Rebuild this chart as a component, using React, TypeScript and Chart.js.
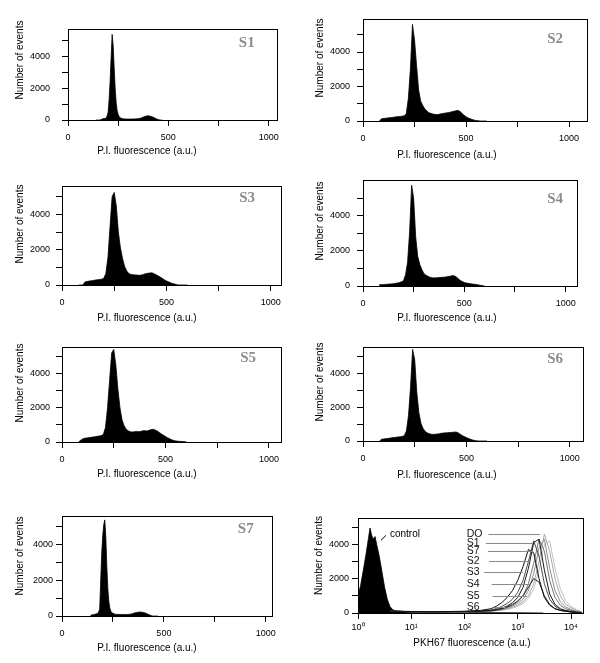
import React, { useEffect, useRef } from "react";
import { Chart, registerables } from "chart.js";

Chart.register(...registerables);

const SANS = "'Liberation Sans', Arial, Helvetica, sans-serif";
const SERIF = "'Liberation Serif', 'Times New Roman', serif";

// ---------- DATA ----------
// P.I. histogram bin centres (a.u.)
const PI_BINS_WIDE = [
  80, 90, 100, 110, 120, 130, 140, 150, 160, 170,
  180, 190, 200, 210, 220, 230, 240, 250, 260, 270,
  280, 290, 300, 310, 320, 330, 340, 350, 360, 370,
  380, 390, 400, 410, 420, 430, 440, 450, 460, 470,
  480, 490, 500, 510, 520, 530, 540, 550, 560, 570,
  580, 590, 600,
];
const PI_BINS_NARROW = [
  140, 145, 150, 155, 160, 165, 170, 175, 180, 185,
  190, 195, 200, 205, 210, 215, 220, 225, 230, 235,
  240, 245, 250, 255, 260, 265, 270, 275, 280, 285,
  290, 295, 300, 305, 310, 315, 320, 325, 330, 335,
  340, 345, 350, 355, 360, 365, 370, 375, 380, 385,
  390, 395, 400, 405, 410, 415, 420, 425, 430, 435,
  440, 445, 450, 455, 460, 465, 470,
];

// Number of events per bin
const S1_EVENTS = [
  0, 0, 0, 0, 0, 30, 60, 80, 90, 100,
  140, 250, 500, 1300, 2500, 4000, 5400, 4700, 3300, 2000,
  1100, 600, 350, 200, 150, 110, 90, 80, 70, 70,
  65, 60, 60, 60, 60, 60, 65, 65, 70, 70,
  75, 80, 90, 100, 110, 130, 160, 190, 210, 230,
  250, 260, 270, 260, 240, 220, 200, 170, 140, 110,
  80, 50, 30, 10, 0, 0, 0,
];
const S7_EVENTS = [
  40, 60, 70, 80, 90, 110, 130, 150, 220, 400,
  2000, 3500, 4500, 5100, 5360, 4430, 2750, 1500, 800, 430,
  260, 180, 150, 120, 100, 90, 90, 90, 90, 85,
  80, 80, 80, 80, 80, 80, 85, 90, 95, 100,
  110, 130, 150, 170, 185, 195, 205, 215, 220, 220,
  215, 210, 195, 180, 160, 140, 110, 80, 60, 35,
  15, 0, 0, 0, 0, 0, 0,
];
const S2_EVENTS = [
  0, 130, 150, 160, 180, 190, 210, 220, 240, 250,
  260, 280, 300, 420, 1300, 3000, 5600, 4700, 3200, 1800,
  1150, 900, 700, 580, 480, 440, 400, 380, 370, 390,
  420, 440, 460, 480, 500, 530, 560, 590, 610, 560,
  450, 330, 250, 180, 130, 90, 50, 30, 10, 0,
  0, 0, 0,
];
const S3_EVENTS = [
  0, 0, 0, 170, 200, 220, 240, 260, 280, 300,
  310, 330, 380, 650, 1550, 3300, 5000, 5250, 4500, 3000,
  2100, 1500, 1050, 800, 650, 600, 580, 570, 560, 550,
  560, 600, 640, 660, 680, 690, 650, 580, 520, 450,
  380, 300, 230, 180, 130, 80, 50, 20, 0, 0,
  0, 0, 0,
];
const S4_EVENTS = [
  70, 75, 80, 90, 100, 110, 120, 130, 150, 170,
  200, 240, 300, 650, 1350, 3100, 5750, 5000, 2800, 1700,
  1235, 950, 720, 620, 560, 500, 470, 460, 465, 475,
  485, 495, 500, 520, 540, 560, 590, 580, 520, 420,
  320, 250, 200, 170, 150, 130, 110, 100, 90, 60,
  40, 20, 0,
];
const S5_EVENTS = [
  0, 100, 180, 220, 240, 250, 270, 290, 310, 330,
  350, 380, 450, 850, 2000, 3600, 5200, 5400, 4500, 3100,
  2000, 1300, 950, 750, 650, 600, 580, 600, 620, 600,
  620, 650, 660, 640, 680, 720, 740, 700, 640, 560,
  470, 400, 320, 250, 190, 130, 90, 60, 45, 35,
  30, 20, 10,
];
const S6_EVENTS = [
  0, 100, 120, 140, 150, 170, 190, 200, 220, 240,
  250, 270, 320, 600, 1500, 3200, 5400, 4800, 2900, 1700,
  1050, 750, 580, 480, 430, 400, 390, 400, 410, 430,
  460, 470, 480, 490, 500, 510, 520, 530, 480, 400,
  320, 260, 200, 150, 100, 60, 35, 10, 0, 0,
  0, 0, 0,
];

// PKH67 fluorescence (log axis)
const CONTROL_X = [1, 1.12, 1.26, 1.41, 1.58, 1.68, 1.78, 1.91, 2.09, 2.24, 2.51, 2.82, 3.16, 3.55, 3.98, 4.47, 5.01, 6.31, 7.94, 10, 15.8, 31.6, 100, 316, 1000, 3000];
const CONTROL_Y = [1000, 1600, 2500, 3400, 4400, 4950, 4600, 4300, 4450, 4000, 3300, 2400, 1500, 800, 380, 200, 130, 100, 80, 60, 40, 30, 20, 20, 10, 0];

const SAMPLE_X = [4, 10, 30, 100, 200, 316, 398, 501, 631, 794, 1000, 1259, 1585, 1995, 2512, 3162, 3981, 5012, 6310, 7943, 10000, 12589, 15849];
const PKH_S3 = [120, 90, 80, 100, 150, 250, 400, 600, 900, 1300, 1900, 2700, 3700, 3500, 2000, 900, 450, 250, 150, 100, 60, 30, 10];
const PKH_S2 = [100, 80, 70, 90, 120, 180, 260, 380, 550, 800, 1200, 1900, 3000, 4200, 3300, 1700, 800, 400, 200, 120, 80, 40, 10];
const PKH_S1 = [100, 80, 70, 90, 110, 150, 200, 280, 400, 600, 900, 1500, 2600, 4100, 4300, 2500, 1100, 500, 250, 150, 90, 50, 20];
const PKH_S5 = [90, 70, 60, 80, 100, 130, 180, 250, 350, 500, 700, 1000, 1500, 2000, 1800, 1000, 500, 250, 150, 100, 60, 30, 10];
const PKH_S4 = [100, 80, 70, 80, 100, 130, 170, 230, 320, 450, 650, 1000, 1700, 2900, 4300, 3600, 1900, 900, 450, 250, 150, 80, 30];
const PKH_S7 = [100, 80, 70, 80, 100, 120, 150, 200, 280, 400, 550, 800, 1300, 2300, 3800, 4300, 2600, 1300, 650, 350, 200, 100, 40];
const PKH_DO = [100, 80, 70, 80, 100, 120, 140, 180, 240, 330, 450, 650, 1000, 1700, 3000, 4600, 3600, 2000, 1000, 500, 300, 150, 60];
const PKH_S6 = [100, 80, 70, 80, 90, 110, 130, 160, 210, 280, 380, 550, 850, 1400, 2500, 4000, 4200, 2600, 1400, 700, 400, 200, 80];

// Labels and leader lines of the PKH67 panel (data coordinates)
const PKH_LABELS = ["DO", "S1", "S7", "S2", "S3", "S4", "S5", "S6"];
const PKH_LABEL_Y = [4620, 4075, 3590, 3010, 2390, 1680, 1000, 365];
const PKH_LEADER_START = [282, 251, 275, 288, 234, 324, 339, 355];
const PKH_LEADER_END = [2630, 1950, 1950, 1740, 1260, 1740, 1480, 600];
const PKH_LABEL_X = 110;
const CONTROL_LABEL = "control";
const CONTROL_LABEL_AT = [3.98, 4580];
const CONTROL_MARK_FROM = [2.7, 4230];
const CONTROL_MARK_TO = [3.36, 4520];

// Ticks
const X_LIN_TICKS = [0, 250, 500, 750, 1000];
const X_LIN_LABELS = ["0", "", "500", "", "1000"];
const X_LOG_TICKS = [1, 10, 100, 1000, 10000];
const X_LOG_LABELS = ["10\u2070", "10\u00B9", "10\u00B2", "10\u00B3", "10\u2074"];
const Y_TICKS = [0, 1000, 2000, 3000, 4000, 5000];
const Y_LABELS = ["0", "", "2000", "", "4000", ""];

// ---------- LAYOUT ----------
const PADL = 60, PADT = 8, PADR = 8, PADB = 42;

type Series = { xs: number[]; ys: number[]; color: string; fill: boolean; width: number };
type PanelCfg = {
  key: string; L: number; T: number; R: number; B: number;
  xMin: number; xMax: number; yMax: number; log?: boolean;
  tag?: string; tagRight?: number; tagTop?: number;
  xTitle: string; xTitleCX: number; xTitleCY: number; yTitleCX: number; yPad: number;
  series: Series[]; leaders?: boolean;
};

const black = (xs: number[], ys: number[]): Series => ({ xs, ys, color: "#000", fill: true, width: 0.8 });
const PI_TITLE = "P.I. fluorescence (a.u.)";

const PANELS: PanelCfg[] = [
  { key: "S1", L: 68, T: 20, R: 277, B: 120, xMin: 0, xMax: 1040, yMax: 5714, tag: "S1", tagRight: 22, tagTop: 14, xTitle: PI_TITLE, xTitleCX: 147, xTitleCY: 151, yTitleCX: 20, yPad: 12, series: [black(PI_BINS_NARROW, S1_EVENTS)] },
  { key: "S2", L: 363, T: 15, R: 587, B: 121, xMin: 0, xMax: 1087, yMax: 5890, tag: "S2", tagRight: 24, tagTop: 20, xTitle: PI_TITLE, xTitleCX: 447, xTitleCY: 155, yTitleCX: 320, yPad: 7, series: [black(PI_BINS_WIDE, S2_EVENTS)] },
  { key: "S3", L: 62, T: 183, R: 281, B: 285, xMin: 0, xMax: 1049, yMax: 5590, tag: "S3", tagRight: 26, tagTop: 12, xTitle: PI_TITLE, xTitleCX: 147, xTitleCY: 318, yTitleCX: 20, yPad: 6, series: [black(PI_BINS_WIDE, S3_EVENTS)] },
  { key: "S4", L: 363, T: 176, R: 577, B: 286, xMin: 0, xMax: 1056, yMax: 6027, tag: "S4", tagRight: 14, tagTop: 19, xTitle: PI_TITLE, xTitleCX: 447, xTitleCY: 318, yTitleCX: 320, yPad: 7, series: [black(PI_BINS_WIDE, S4_EVENTS)] },
  { key: "S5", L: 62, T: 344, R: 281, B: 442, xMin: 0, xMax: 1058, yMax: 5521, tag: "S5", tagRight: 25, tagTop: 11, xTitle: PI_TITLE, xTitleCX: 147, xTitleCY: 474, yTitleCX: 20, yPad: 6, series: [black(PI_BINS_WIDE, S5_EVENTS)] },
  { key: "S6", L: 363, T: 343, R: 583, B: 441, xMin: 0, xMax: 1064, yMax: 5521, tag: "S6", tagRight: 20, tagTop: 12, xTitle: PI_TITLE, xTitleCX: 447, xTitleCY: 475, yTitleCX: 320, yPad: 7, series: [black(PI_BINS_WIDE, S6_EVENTS)] },
  { key: "S7", L: 62, T: 516, R: 274, B: 616, xMin: 0, xMax: 1029, yMax: 5556, tag: "S7", tagRight: 18, tagTop: 13, xTitle: PI_TITLE, xTitleCX: 147, xTitleCY: 648, yTitleCX: 20, yPad: 3, series: [black(PI_BINS_NARROW, S7_EVENTS)] },
  {
    key: "PKH", L: 358, T: 518, R: 583, B: 613, xMin: 1, xMax: 16800, yMax: 5507, log: true,
    xTitle: "PKH67 fluorescence (a.u.)", xTitleCX: 472, xTitleCY: 643, yTitleCX: 319, yPad: 3, leaders: true,
    series: [
      { xs: SAMPLE_X, ys: PKH_S3, color: "#111", fill: false, width: 1 },
      { xs: SAMPLE_X, ys: PKH_S5, color: "#222", fill: false, width: 1 },
      { xs: SAMPLE_X, ys: PKH_S1, color: "#1a1a1a", fill: false, width: 1 },
      { xs: SAMPLE_X, ys: PKH_S2, color: "#4d4d4d", fill: false, width: 1 },
      { xs: SAMPLE_X, ys: PKH_S4, color: "#777", fill: false, width: 1 },
      { xs: SAMPLE_X, ys: PKH_S7, color: "#8c8c8c", fill: false, width: 1 },
      { xs: SAMPLE_X, ys: PKH_DO, color: "#aaa", fill: false, width: 1 },
      { xs: SAMPLE_X, ys: PKH_S6, color: "#c4c4c4", fill: false, width: 1 },
      black(CONTROL_X, CONTROL_Y),
    ],
  },
];

const decor = {
  id: "decor",
  afterDatasetsDraw(chart: any, _args: any, o: any) {
    const { ctx, chartArea: a } = chart;
    const xs = chart.scales.x, ys = chart.scales.y;
    if (o.leaders) {
      ctx.save();
      ctx.lineWidth = 1;
      PKH_LABELS.forEach((t: string, i: number) => {
        const y = Math.round(ys.getPixelForValue(PKH_LABEL_Y[i])) + 0.5;
        ctx.strokeStyle = "#8a8a8a";
        ctx.beginPath();
        ctx.moveTo(xs.getPixelForValue(PKH_LEADER_START[i]), y);
        ctx.lineTo(xs.getPixelForValue(PKH_LEADER_END[i]), y);
        ctx.stroke();
        ctx.fillStyle = "#111";
        ctx.font = `10.5px ${SANS}`;
        ctx.textAlign = "left";
        ctx.textBaseline = "middle";
        ctx.fillText(t, xs.getPixelForValue(PKH_LABEL_X), y);
      });
      ctx.strokeStyle = "#000";
      ctx.beginPath();
      ctx.moveTo(xs.getPixelForValue(CONTROL_MARK_FROM[0]), ys.getPixelForValue(CONTROL_MARK_FROM[1]));
      ctx.lineTo(xs.getPixelForValue(CONTROL_MARK_TO[0]), ys.getPixelForValue(CONTROL_MARK_TO[1]));
      ctx.stroke();
      ctx.fillStyle = "#000";
      ctx.font = `10px ${SANS}`;
      ctx.fillText(CONTROL_LABEL, xs.getPixelForValue(CONTROL_LABEL_AT[0]), ys.getPixelForValue(CONTROL_LABEL_AT[1]));
      ctx.restore();
    }
    ctx.save();
    ctx.strokeStyle = "#000";
    ctx.lineWidth = 1;
    ctx.strokeRect(Math.round(a.left) + 0.5, Math.round(a.top) + 0.5, Math.round(a.right - a.left), Math.round(a.bottom - a.top));
    if (o.tag) {
      ctx.font = `bold 15px ${SERIF}`;
      ctx.fillStyle = "#8c8c8c";
      ctx.textAlign = "right";
      ctx.textBaseline = "middle";
      ctx.fillText(o.tag, a.right - o.tagRight, a.top + o.tagTop);
    }
    ctx.fillStyle = "#000";
    ctx.font = `10px ${SANS}`;
    ctx.textAlign = "center";
    ctx.textBaseline = "middle";
    ctx.fillText(o.xTitle, o.xTitleX, o.xTitleY);
    ctx.translate(o.yTitleX, o.yTitleY);
    ctx.rotate(-Math.PI / 2);
    ctx.fillText("Number of events", 0, 0);
    ctx.restore();
  },
};

function Panel({ cfg }: { cfg: PanelCfg }) {
  const ref = useRef<HTMLCanvasElement>(null);
  const left = cfg.L - PADL;
  const top = cfg.T - PADT;
  const w = cfg.R - cfg.L + PADL + PADR;
  const h = cfg.B - cfg.T + PADT + PADB;
  useEffect(() => {
    const xTicks = cfg.log ? X_LOG_TICKS : X_LIN_TICKS;
    const xLabels = cfg.log ? X_LOG_LABELS : X_LIN_LABELS;
    const chart = new Chart(ref.current as HTMLCanvasElement, {
      type: "line",
      data: {
        datasets: cfg.series.map((s) => ({
          data: s.xs.map((x, i) => ({ x, y: s.ys[i] })),
          borderColor: s.color,
          backgroundColor: s.color,
          fill: s.fill ? "origin" : false,
          borderWidth: s.width,
          pointRadius: 0,
          tension: 0,
        })),
      } as any,
      options: {
        animation: false,
        responsive: false,
        events: [],
        layout: { padding: { left: 0, top: PADT, right: PADR, bottom: 0 } },
        plugins: {
          legend: { display: false },
          tooltip: { enabled: false },
          decor: {
            tag: cfg.tag, tagRight: cfg.tagRight, tagTop: cfg.tagTop,
            xTitle: cfg.xTitle, xTitleX: cfg.xTitleCX - left, xTitleY: cfg.xTitleCY - top,
            yTitleX: cfg.yTitleCX - left, yTitleY: (cfg.T + cfg.B) / 2 - 10 - top,
            leaders: !!cfg.leaders,
          },
        } as any,
        scales: {
          x: {
            type: cfg.log ? "logarithmic" : "linear",
            min: cfg.xMin,
            max: cfg.xMax,
            afterFit: (s: any) => { s.height = PADB; },
            afterBuildTicks: (s: any) => { s.ticks = xTicks.map((v) => ({ value: v })); },
            ticks: {
              autoSkip: false, maxRotation: 0, minRotation: 0, padding: cfg.log ? 3 : 6, color: "#000",
              font: { size: 9, family: SANS },
              callback: (_v: any, i: number) => xLabels[i],
            },
            grid: { drawOnChartArea: false, drawTicks: true, tickLength: 6, color: "#000", tickColor: "#000" },
            border: { display: false },
          },
          y: {
            type: "linear",
            min: 0,
            max: cfg.yMax,
            afterFit: (s: any) => { s.width = PADL; },
            afterBuildTicks: (s: any) => { s.ticks = Y_TICKS.map((v) => ({ value: v })); },
            ticks: {
              autoSkip: false, padding: cfg.yPad, color: "#000",
              font: { size: 9, family: SANS },
              callback: (_v: any, i: number) => Y_LABELS[i],
            },
            grid: { drawOnChartArea: false, drawTicks: true, tickLength: 6, color: "#000", tickColor: "#000" },
            border: { display: false },
          },
        } as any,
      },
      plugins: [decor as any],
    });
    return () => chart.destroy();
  }, []);
  return (
    <canvas
      ref={ref}
      width={w}
      height={h}
      style={{ position: "absolute", left, top, width: w, height: h }}
    />
  );
}

export default function App() {
  return (
    <div style={{ position: "absolute", left: 0, top: 0, width: 600, height: 663, background: "#fff", overflow: "hidden" }}>
      {PANELS.map((p) => (
        <Panel key={p.key} cfg={p} />
      ))}
    </div>
  );
}
